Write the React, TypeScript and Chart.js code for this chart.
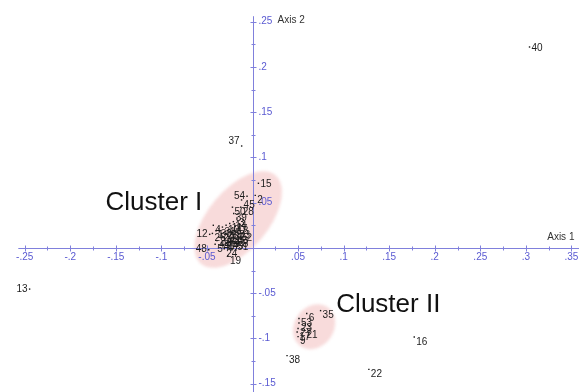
import React, { useEffect, useRef } from 'react';
import { Chart, registerables } from 'chart.js';

Chart.register(...registerables);

// ---- data ----
const pointLabels = [
  '40', '13', '37', '15', '35', '16', '38', '22',
  '6', '53', '23', '27', '17', '21', '9',
  '54', '2', '45', '50', '28', '39',
  '4', '12', '26', '1', '30', '31', '10', '11', '14', '18', '20', '25', '29', '32', '33',
  '34', '36', '41', '42', '43', '44', '46', '47', '49', '51', '52', '7', '8', '5', '3',
  '48', '24', '19',
];
const axis1Values = [
  0.304, -0.2446, -0.0119, 0.0065, 0.0747, 0.1775, 0.0379, 0.1277,
  0.0595, 0.051, 0.051, 0.05, 0.049, 0.057, 0.05,
  -0.006, 0.003, -0.012, -0.022, -0.013, -0.0206,
  -0.043, -0.047, -0.044, -0.04, -0.037, -0.033, -0.029, -0.025, -0.021, -0.019, -0.034, -0.03, -0.026, -0.022, -0.017,
  -0.037, -0.031, -0.027, -0.023, -0.019, -0.039, -0.034, -0.029, -0.024, -0.019, -0.015, -0.014, -0.013, -0.041, -0.017,
  -0.048, -0.031, -0.027,
];
const axis2Values = [
  0.222, -0.0455, 0.1126, 0.0714, -0.0693, -0.0985, -0.119, -0.1342,
  -0.0725, -0.078, -0.083, -0.089, -0.093, -0.091, -0.098,
  0.057, 0.058, 0.053, 0.045, 0.045, 0.038,
  0.025, 0.015, 0.016, 0.019, 0.021, 0.023, 0.025, 0.027, 0.029, 0.024, 0.016, 0.018, 0.02, 0.017, 0.02,
  0.012, 0.011, 0.013, 0.011, 0.013, 0.008, 0.006, 0.005, 0.007, 0.006, 0.016, 0.026, 0.01, 0.004, 0.033,
  -0.002, -0.001, -0.009,
];

const xTickValues = [-0.25, -0.2, -0.15, -0.1, -0.05, 0.05, 0.1, 0.15, 0.2, 0.25, 0.3, 0.35];
const yTickValues = [-0.15, -0.1, -0.05, 0.05, 0.1, 0.15, 0.2, 0.25];
const axisTitles = ['Axis 1', 'Axis 2'];

const clusterNames = ['Cluster I', 'Cluster II'];
const clusterCenterX = [-0.0157, 0.0676];
const clusterCenterY = [0.0314, -0.0871];
const clusterRadiusA = [0.0635, 0.026];
const clusterRadiusB = [0.033, 0.0216];
const clusterAngleDeg = [50, 55];
const clusterTextX = [-0.1613, 0.092];
const clusterTextY = [0.0422, -0.0703];

// label placement (style)
const labelPlacement: Record<string, string> = {
  '13': 'l', '37': 'lt', '40': 'c', '15': 'c', '12': 'l', '48': 'l', '54': 'l',
};

const fmtTick = (v: number) => {
  let s = String(+v.toFixed(2));
  s = s.replace('0.', '.');
  return s;
};

const AXIS_COLOR = '#8080dc';
const TICK_TEXT = '#5a5ad2';

const decorPlugin = {
  id: 'decor',
  beforeDatasetsDraw(chart: any) {
    const ctx = chart.ctx as CanvasRenderingContext2D;
    const xs = chart.scales.x;
    const ys = chart.scales.y;
    const unit = xs.getPixelForValue(1) - xs.getPixelForValue(0);
    const ox = xs.getPixelForValue(0);
    const oy = ys.getPixelForValue(0);
    const W = chart.width;
    const H = chart.height;

    // ellipses
    ctx.save();
    ctx.filter = 'blur(1.5px)';
    for (let i = 0; i < clusterNames.length; i++) {
      const cx = xs.getPixelForValue(clusterCenterX[i]);
      const cy = ys.getPixelForValue(clusterCenterY[i]);
      ctx.beginPath();
      ctx.ellipse(cx, cy, clusterRadiusA[i] * unit, clusterRadiusB[i] * unit,
        (-clusterAngleDeg[i] * Math.PI) / 180, 0, Math.PI * 2);
      ctx.fillStyle = 'rgba(240,172,172,0.44)';
      ctx.fill();
    }
    ctx.restore();

    // cluster text
    ctx.save();
    ctx.fillStyle = '#111';
    ctx.font = '26px Arial, "Liberation Sans", sans-serif';
    ctx.textAlign = 'left';
    ctx.textBaseline = 'alphabetic';
    for (let i = 0; i < clusterNames.length; i++) {
      ctx.fillText(clusterNames[i], xs.getPixelForValue(clusterTextX[i]), ys.getPixelForValue(clusterTextY[i]));
    }
    ctx.restore();

    // axes
    ctx.save();
    ctx.strokeStyle = AXIS_COLOR;
    ctx.lineWidth = 1;
    const ay = Math.round(oy) + 0.5;
    const ax = Math.round(ox) + 0.5;
    ctx.beginPath();
    ctx.moveTo(xs.getPixelForValue(-0.257), ay);
    ctx.lineTo(W, ay);
    ctx.moveTo(ax, ys.getPixelForValue(0.256));
    ctx.lineTo(ax, H);
    for (let v = -0.25; v <= 0.36; v += 0.025) {
      const r = Math.round(v * 1000) / 1000;
      if (Math.abs(r) < 1e-6) continue;
      const major = Math.abs(Math.round(r * 40) % 2) === 0;
      const len = major ? 3 : 2;
      const px = Math.round(xs.getPixelForValue(r)) + 0.5;
      ctx.moveTo(px, ay - len);
      ctx.lineTo(px, ay + len);
    }
    for (let v = -0.15; v <= 0.26; v += 0.025) {
      const r = Math.round(v * 1000) / 1000;
      if (Math.abs(r) < 1e-6) continue;
      const major = Math.abs(Math.round(r * 40) % 2) === 0;
      const len = major ? 3 : 2;
      const py = Math.round(ys.getPixelForValue(r)) + 0.5;
      ctx.moveTo(ax - len, py);
      ctx.lineTo(ax + len, py);
    }
    ctx.stroke();

    ctx.fillStyle = TICK_TEXT;
    ctx.font = '10px Arial, "Liberation Sans", sans-serif';
    ctx.textAlign = 'center';
    ctx.textBaseline = 'middle';
    for (const v of xTickValues) {
      ctx.fillText(fmtTick(v), xs.getPixelForValue(v), ay + 9);
    }
    ctx.textAlign = 'left';
    for (const v of yTickValues) {
      ctx.fillText(fmtTick(v), ax + 5, ys.getPixelForValue(v));
    }

    ctx.fillStyle = '#333';
    ctx.textAlign = 'left';
    ctx.fillText(axisTitles[0], xs.getPixelForValue(0.3234), ay - 11);
    ctx.fillText(axisTitles[1], ax + 24, ys.getPixelForValue(0.25) - 1);
    ctx.restore();
  },
  afterDatasetsDraw(chart: any) {
    const ctx = chart.ctx as CanvasRenderingContext2D;
    const meta = chart.getDatasetMeta(0);
    ctx.save();
    ctx.fillStyle = '#1c1c1c';
    ctx.font = '10px Arial, "Liberation Sans", sans-serif';
    ctx.textBaseline = 'middle';
    meta.data.forEach((el: any, i: number) => {
      const lab = pointLabels[i];
      const mode = labelPlacement[lab] || 'r';
      if (mode === 'l') {
        ctx.textAlign = 'right';
        ctx.fillText(lab, el.x - 2, el.y);
      } else if (mode === 'lt') {
        ctx.textAlign = 'right';
        ctx.fillText(lab, el.x - 2, el.y - 5);
      } else if (mode === 'c') {
        ctx.textAlign = 'left';
        ctx.fillText(lab, el.x + 2, el.y + 1);
      } else {
        ctx.textAlign = 'left';
        ctx.fillText(lab, el.x + 2, el.y + 5);
      }
    });
    ctx.restore();
  },
};

export default function App() {
  const ref = useRef<HTMLCanvasElement | null>(null);
  useEffect(() => {
    if (!ref.current) return;
    const data = pointLabels.map((_, i) => ({ x: axis1Values[i], y: axis2Values[i] }));
    const chart = new Chart(ref.current, {
      type: 'scatter',
      data: {
        datasets: [{
          data,
          pointRadius: 1,
          pointBorderWidth: 0,
          pointBackgroundColor: '#1a1a1a',
          pointStyle: 'rect',
        }],
      },
      options: {
        animation: false,
        responsive: true,
        maintainAspectRatio: false,
        events: [],
        layout: { padding: 0 },
        plugins: { legend: { display: false }, tooltip: { enabled: false } },
        scales: {
          x: { type: 'linear', min: -0.2727, max: 0.3539, display: false },
          y: { type: 'linear', min: -0.1548, max: 0.2695, display: false },
        },
      },
      plugins: [decorPlugin],
    });
    return () => chart.destroy();
  }, []);
  return (
    <div style={{ position: 'fixed', left: 0, top: 0, width: 579, height: 392, background: '#fff' }}>
      <canvas ref={ref} />
    </div>
  );
}
